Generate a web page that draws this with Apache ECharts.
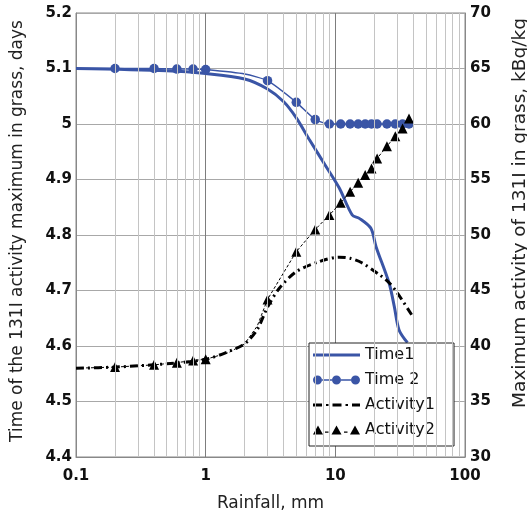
<!DOCTYPE html>
<html><head><meta charset="utf-8">
<script src="https://cdn.jsdelivr.net/npm/echarts@6/dist/echarts.min.js"></script>
<style>html,body{margin:0;padding:0;background:#fff}#c{width:527px;height:515px}</style>
</head><body><div id="c"></div>
<script>
// ---- data ----
const rainTime1 = [0.1, 0.5, 1, 2, 3, 4, 5, 6.3, 8.5, 10.7, 13.5, 15.3, 18.8, 20.6, 26, 28.5, 31, 36];
const time1     = [5.1, 5.096, 5.091, 5.081, 5.063, 5.04, 5.011, 4.972, 4.923, 4.885, 4.836, 4.83, 4.812, 4.779, 4.713, 4.671, 4.629, 4.606];

const rainTime2 = [0.1, 0.2, 0.4, 0.6, 0.8, 1, 2, 3, 5, 7, 9, 11, 13, 15, 17, 19, 21, 25, 29, 33, 37];
const time2     = [5.1, 5.1, 5.1, 5.099, 5.099, 5.098, 5.09, 5.078, 5.039, 5.008, 5.0, 5.0, 5.0, 5.0, 5.0, 5.0, 5.0, 5.0, 5.0, 5.0, 5.0];
const time2Marker = [false, true, true, true, true, true, false, true, true, true, true, true, true, true, true, true, true, true, true, true, true];

const rainAct1 = [0.1, 0.2, 0.5, 1, 1.5, 2, 2.5, 3, 3.7, 5, 7.5, 10.7, 13, 16, 22, 26, 30, 38.8];
const act1     = [38.0, 38.1, 38.4, 38.8, 39.5, 40.2, 41.5, 43.5, 45.2, 46.7, 47.6, 48.0, 47.9, 47.5, 46.4, 45.7, 44.8, 42.8];

const rainAct2 = [0.1, 0.2, 0.4, 0.6, 0.8, 1, 1.5, 2, 2.5, 3, 5, 7, 9, 11, 13, 15, 17, 19, 21, 25, 29, 33, 37];
const act2     = [38.0, 38.1, 38.3, 38.5, 38.7, 38.8, 39.4, 40.2, 41.8, 44.2, 48.5, 50.5, 51.8, 52.9, 53.9, 54.7, 55.4, 56.0, 56.9, 58.0, 58.9, 59.6, 60.5];
const act2Marker = [false, true, true, true, true, true, false, false, false, true, true, true, true, true, true, true, true, true, true, true, true, true, true];

const minorTicks = [0.2,0.3,0.4,0.5,0.6,0.7,0.8,0.9, 2,3,4,5,6,7,8,9, 20,30,40,50,60,70,80,90];
const seriesNames = ['Time1', 'Time 2', 'Activity1', 'Activity2'];
const xAxisTitle = 'Rainfall, mm';
const leftTitle = 'Time of the 131I activity maximum in grass, days';
const rightTitle = 'Maximum activity of 131I in grass, kBq/kg';

// ---- chart ----
const BLUE = '#3a55a6';
const FONT = '"DejaVu Sans", sans-serif';
function pts(xs, ys, marks) {
  return xs.map((x, i) => {
    const d = { value: [x, ys[i]] };
    if (marks && !marks[i]) d.symbol = 'none';
    return d;
  });
}
const labelStyle = { color: '#111', fontSize: 15, fontWeight: 'bold', fontFamily: FONT };

const chart = echarts.init(document.getElementById('c'), null, { renderer: 'canvas' });
chart.setOption({
  animation: false,
  backgroundColor: '#fff',
  grid: { left: 76, right: 62, top: 13, bottom: 58, show: true, borderColor: '#888', borderWidth: 1,
          containLabel: false, outerBoundsMode: 'none' },
  legend: {
    left: 309, top: 343, orient: 'vertical',
    backgroundColor: '#fff', borderColor: '#222', borderWidth: 1, borderRadius: 0,
    padding: [4, 19, 8, 4], itemGap: 9, itemWidth: 47, itemHeight: 9,
    textStyle: { color: '#111', fontSize: 16, fontFamily: FONT },
    data: [
      { name: seriesNames[0], icon: 'path://M0,0H47V3.2H0Z' },
      { name: seriesNames[1], icon: 'path://M9,3.8H19V5.2H9Z M28,3.8H38V5.2H28Z M0,4.5a4.5,4.5 0 1,0 9,0a4.5,4.5 0 1,0 -9,0Z M19,4.5a4.5,4.5 0 1,0 9,0a4.5,4.5 0 1,0 -9,0Z M38,4.5a4.5,4.5 0 1,0 9,0a4.5,4.5 0 1,0 -9,0Z' },
      { name: seriesNames[2], icon: 'path://M0,0H9V3H0Z M13,0.5H15.5V2.5H13Z M19.5,0H28.5V3H19.5Z M32.5,0.5H35V2.5H32.5Z M39,0H47V3H39Z' },
      { name: seriesNames[3], icon: 'path://M0,9L5,0L10,9Z M18.5,9L23.5,0L28.5,9Z M37,9L42,0L47,9Z M12,6H15.5V7.3H12Z M31,6H34.5V7.3H31Z' }
    ]
  },
  xAxis: {
    type: 'log', logBase: 10, min: 0.1, max: 100,
    name: xAxisTitle, nameLocation: 'middle', nameGap: 38,
    nameTextStyle: { color: '#222', fontSize: 17, fontFamily: FONT },
    axisLine: { show: true, lineStyle: { color: '#888' } },
    axisTick: { show: false },
    axisLabel: Object.assign({ margin: 12, formatter: v => String(v) }, labelStyle),
    splitLine: { show: true, lineStyle: { color: '#7d7d7d', width: 1 } }
  },
  yAxis: [
    {
      type: 'value', min: 4.4, max: 5.2, interval: 0.1, position: 'left',
      name: leftTitle, nameLocation: 'middle', nameGap: 50,
      nameTextStyle: { color: '#222', fontSize: 17, fontFamily: FONT, padding: [0, 0, 0, 8] },
      axisLine: { show: true, lineStyle: { color: '#888' } },
      axisTick: { show: false },
      axisLabel: Object.assign({ margin: 4 }, labelStyle),
      splitLine: { show: true, lineStyle: { color: '#a8a8a8', width: 1 } }
    },
    {
      type: 'value', min: 30, max: 70, interval: 5, position: 'right',
      name: rightTitle, nameLocation: 'middle', nameGap: 46,
      nameTextStyle: { color: '#222', fontSize: 18.5, fontFamily: FONT, padding: [0, 0, 0, 44] },
      axisLine: { show: true, lineStyle: { color: '#888' } },
      axisTick: { show: false },
      axisLabel: Object.assign({ margin: 5 }, labelStyle),
      splitLine: { show: false }
    }
  ],
  series: [
    {
      name: 'minor-grid', type: 'line', data: [[0.1, 5.2]], symbol: 'none', silent: true, z: 0,
      lineStyle: { opacity: 0 },
      markLine: {
        silent: true, symbol: ['none', 'none'], label: { show: false },
        lineStyle: { color: '#c4c4c4', type: 'solid', width: 1 },
        data: minorTicks.map(v => ({ xAxis: v }))
      }
    },
    {
      name: seriesNames[0], type: 'line', yAxisIndex: 0, z: 3,
      data: pts(rainTime1, time1), symbol: 'none', smooth: 0.3,
      lineStyle: { color: BLUE, width: 3 }, itemStyle: { color: BLUE }
    },
    {
      name: seriesNames[1], type: 'line', yAxisIndex: 0, z: 4,
      data: pts(rainTime2, time2, time2Marker), symbol: 'circle', symbolSize: 9.5, showSymbol: true, smooth: 0.2,
      lineStyle: { color: BLUE, width: 1.5 }, itemStyle: { color: BLUE }
    },
    {
      name: seriesNames[2], type: 'line', yAxisIndex: 1, z: 3,
      data: pts(rainAct1, act1), symbol: 'none', smooth: 0.3,
      lineStyle: { color: '#000', width: 3, type: [8, 4, 2, 4] }, itemStyle: { color: '#000' }
    },
    {
      name: seriesNames[3], type: 'line', yAxisIndex: 1, z: 4,
      data: pts(rainAct2, act2, act2Marker), symbol: 'triangle', symbolSize: [10, 10], showSymbol: true,
      lineStyle: { color: '#000', width: 1, type: [3, 2] }, itemStyle: { color: '#000' }
    }
  ]
});
</script>
</body></html>
